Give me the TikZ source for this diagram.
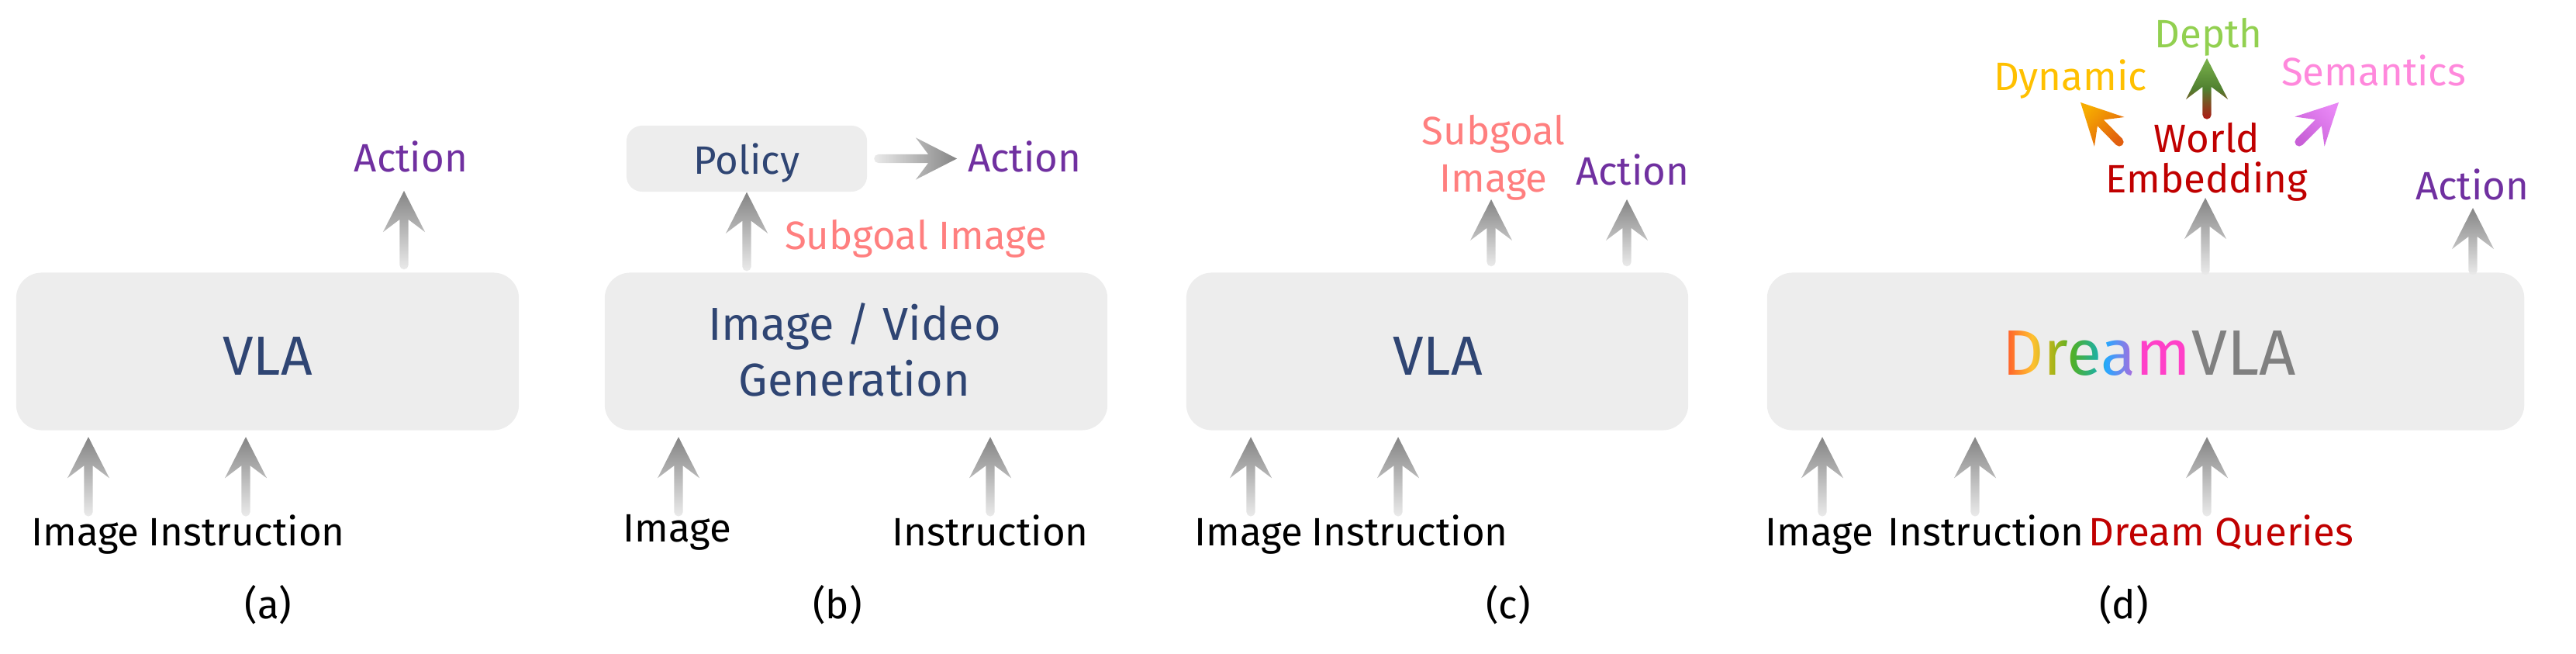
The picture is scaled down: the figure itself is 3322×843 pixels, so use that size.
\documentclass[tikz,border=0pt]{standalone}
\usepackage{fontspec}
\setmainfont{Fira Sans}
\usetikzlibrary{positioning,calc,fadings}

\definecolor{boxgray}{RGB}{237,237,237}
\definecolor{navy}{RGB}{47,69,115}
\definecolor{actpurple}{RGB}{112,48,160}
\definecolor{subsalmon}{RGB}{255,127,127}
\definecolor{dreamred}{RGB}{192,0,0}
\definecolor{depthgreen}{RGB}{146,208,80}
\definecolor{dynyellow}{RGB}{255,192,0}
\definecolor{sempink}{RGB}{255,136,220}
\definecolor{vlagray}{RGB}{128,128,128}
% colours of the Dream letters
\definecolor{dreamD1}{RGB}{255,78,42}
\definecolor{dreamD2}{RGB}{255,192,48}
\definecolor{dreamr}{RGB}{168,180,24}
\definecolor{dreame1}{RGB}{80,176,40}
\definecolor{dreame2}{RGB}{32,176,160}
\definecolor{dreama1}{RGB}{40,168,255}
\definecolor{dreama2}{RGB}{160,112,224}
\definecolor{dreamm}{RGB}{255,64,200}

\newcommand\lblsize{\fontsize{14.5}{17.4}\selectfont}
\newcommand\vlasize{\fontsize{20.2}{24}\selectfont}
\newcommand\gensize{\fontsize{16.9}{20.2}\selectfont}
\newcommand\dreamsize{\fontsize{23.5}{28}\selectfont}

\pgfdeclarehorizontalshading{dreamgrad}{100bp}{color(0bp)=(dreamD1); color(25bp)=(dreamD1);
  color(33bp)=(dreamD2); color(38.5bp)=(dreamr); color(43.5bp)=(dreame1); color(50bp)=(dreame2);
  color(52.5bp)=(dreama1); color(59bp)=(dreama2); color(62bp)=(dreamm); color(100bp)=(dreamm)}
\pgfdeclarefading{dreamfade}{\color{white}\dreamsize Dream}

% shaded arrow from #1 (tail) to #2 (tip), #3 = shading options
\newcommand\flowarrow[3]{%
  \path let \p1=(#1), \p2=(#2) in \pgfextra{%
    \pgfmathsetmacro\flowang{atan2(\y2-\y1,\x2-\x1)}%
    \pgfmathsetmacro\flowlen{veclen(\x2-\x1,\y2-\y1)}%
    \xdef\flowang{\flowang}\xdef\flowlen{\flowlen}};
  \pgfmathsetmacro\flowshd{\flowang-90}%
  \pgfmathsetmacro\flownotch{\flowlen-10.5}%
  \pgfmathsetmacro\flowbarb{\flowlen-15.1}%
  \begin{scope}[shift={(#1)}, rotate=\flowang]
    \shade[#3, shading angle=\flowshd] (0pt,-1.6pt) -- (\flownotch pt,-1.6pt) -- (\flowbarb pt,-7.7pt)
      -- (\flowlen pt,0pt) -- (\flowbarb pt,7.7pt) -- (\flownotch pt,1.6pt) -- (0pt,1.6pt)
      arc[start angle=90, end angle=270, radius=1.6pt] -- cycle;
  \end{scope}}

\begin{document}
\begin{tikzpicture}[x=0.01cm, y=-0.01cm,
    box/.style={fill=boxgray, rounded corners=0.33cm, minimum height=2.03cm, inner sep=0pt},
    lbl/.style={inner sep=0pt, anchor=base, font=\lblsize},
    grayflow/.style={bottom color=black!8, top color=black!48},
    depthflow/.style={bottom color={rgb,255:red,175;green,25;blue,20}, top color={rgb,255:red,122;green,178;blue,76}, middle color={rgb,255:red,80;green,128;blue,48}},
    dynflow/.style={bottom color={rgb,255:red,225;green,95;blue,15}, top color={rgb,255:red,247;green,172;blue,0}},
    semflow/.style={bottom color={rgb,255:red,200;green,95;blue,215}, top color={rgb,255:red,232;green,135;blue,245}}
  ]
  \useasboundingbox (0,0) rectangle (3322,843);

  % (a)
  \node[box, minimum width=6.48cm] (vla-a) at (345,453) {};
  \node[lbl, font=\vlasize, text=navy] (vlat-a) at (345,483) {VLA};
  \node[lbl] (img-a) at (110,703) {Image};
  \node[lbl] (ins-a) at (318,703) {Instruction};
  \node[lbl, text=actpurple] (act-a) at (530,222) {Action};
  \node[lbl, anchor=center] (cap-a) at (346,780) {(a)};
  \coordinate (in-a1) at (114,660);
  \coordinate (in-a2) at (317,660);
  \coordinate (out-a) at (521,246);
  \flowarrow{in-a1}{$(vla-a.south -| in-a1)+(0,8)$}{grayflow}
  \flowarrow{in-a2}{$(vla-a.south -| in-a2)+(0,8)$}{grayflow}
  \flowarrow{$(vla-a.north -| out-a)+(0,-9)$}{out-a}{grayflow}

  % (b)
  \node[box, minimum width=6.48cm] (gen-b) at (1104,453) {};
  \node[lbl, font=\gensize, text=navy, align=center] (gent-b) at (1102,510) {Image / Video\\Generation};
  \node[box, rounded corners=0.2cm, minimum width=3.1cm, minimum height=0.85cm,
        font=\lblsize, text=navy, text depth=0pt] (pol-b) at (963,204.5) {Policy};
  \node[lbl] (img-b) at (873,698) {Image};
  \node[lbl] (ins-b) at (1277,703) {Instruction};
  \node[lbl, text=actpurple] (act-b) at (1321,222) {Action};
  \node[lbl, text=subsalmon] (sub-b) at (1181,322) {Subgoal Image};
  \node[lbl, anchor=center] (cap-b) at (1080,780) {(b)};
  \coordinate (in-b1) at (875,660);
  \coordinate (in-b2) at (1277,660);
  \coordinate (out-b) at (1234,204.5);
  \flowarrow{in-b1}{$(gen-b.south -| in-b1)+(0,8)$}{grayflow}
  \flowarrow{in-b2}{$(gen-b.south -| in-b2)+(0,8)$}{grayflow}
  \flowarrow{$(gen-b.north -| pol-b.south)+(0,-7)$}{pol-b.south}{grayflow}
  \flowarrow{$(pol-b.east)+(14,0)$}{out-b}{grayflow}

  % (c)
  \node[box, minimum width=6.47cm] (vla-c) at (1853.5,453) {};
  \node[lbl, font=\vlasize, text=navy] (vlat-c) at (1854,483) {VLA};
  \node[lbl] (img-c) at (1610,703) {Image};
  \node[lbl] (ins-c) at (1818,703) {Instruction};
  \node[lbl, text=subsalmon, align=center] (sub-c) at (1926,248) {Subgoal\\Image};
  \node[lbl, text=actpurple] (act-c) at (2105,239) {Action};
  \node[lbl, anchor=center] (cap-c) at (1945,780) {(c)};
  \coordinate (in-c1) at (1613,660);
  \coordinate (in-c2) at (1803,660);
  \coordinate (out-c1) at (1923,257);
  \coordinate (out-c2) at (2098,257);
  \flowarrow{in-c1}{$(vla-c.south -| in-c1)+(0,8)$}{grayflow}
  \flowarrow{in-c2}{$(vla-c.south -| in-c2)+(0,8)$}{grayflow}
  \flowarrow{$(vla-c.north -| out-c1)+(0,-13)$}{out-c1}{grayflow}
  \flowarrow{$(vla-c.north -| out-c2)+(0,-13)$}{out-c2}{grayflow}

  % (d)
  \node[box, minimum width=9.76cm] (dvla-d) at (2767,453) {};
  \node[lbl, font=\dreamsize, anchor=base east] (dream-d) at (2826,483) {\phantom{Dream}};
  \shade[shading=dreamgrad, path fading=dreamfade, fit fading=false,
         fading transform={shift={(dream-d.center)}}] (dream-d.south west) rectangle (dream-d.north east);
  \node[lbl, font=\dreamsize, text=vlagray, anchor=base west] (vlat-d) at (dream-d.base east) {VLA};
  \node[lbl] (img-d) at (2346,703) {Image};
  \node[lbl] (ins-d) at (2561,703) {Instruction};
  \node[lbl, text=dreamred] (dq-d) at (2864,703) {Dream Queries};
  \node[lbl, anchor=center] (cap-d) at (2739,780) {(d)};
  \node[lbl, text=dreamred, align=center, font=\fontsize{14.5}{14.8}\selectfont] (wemb-d) at (2846,249) {World\\Embedding};
  \node[lbl, text=actpurple] (act-d) at (3188,258) {Action};
  \node[lbl, text=depthgreen] (depth-d) at (2848,62) {Depth};
  \node[lbl, text=dynyellow] (dyn-d) at (2670,117) {Dynamic};
  \node[lbl, text=sempink] (sem-d) at (3061,111) {Semantics};
  \coordinate (in-d1) at (2350,660);
  \coordinate (in-d2) at (2547,660);
  \coordinate (in-d3) at (2846,660);
  \coordinate (out-d1) at (2844,255);
  \coordinate (out-d2) at (3189,268);
  \coordinate (dep-t) at (2846,148);
  \coordinate (dep-h) at (2846,75);
  \coordinate (dyn-t) at (2733,183);
  \coordinate (dyn-h) at (2683,132);
  \coordinate (sem-t) at (2965,183);
  \coordinate (sem-h) at (3016,132);
  \flowarrow{in-d1}{$(dvla-d.south -| in-d1)+(0,8)$}{grayflow}
  \flowarrow{in-d2}{$(dvla-d.south -| in-d2)+(0,8)$}{grayflow}
  \flowarrow{in-d3}{$(dvla-d.south -| in-d3)+(0,8)$}{grayflow}
  \flowarrow{$(dvla-d.north -| out-d1)+(0,-2)$}{out-d1}{grayflow}
  \flowarrow{$(dvla-d.north -| out-d2)+(0,-2)$}{out-d2}{grayflow}
  \flowarrow{dep-t}{dep-h}{depthflow}
  \flowarrow{dyn-t}{dyn-h}{dynflow}
  \flowarrow{sem-t}{sem-h}{semflow}
\end{tikzpicture}
\end{document}
